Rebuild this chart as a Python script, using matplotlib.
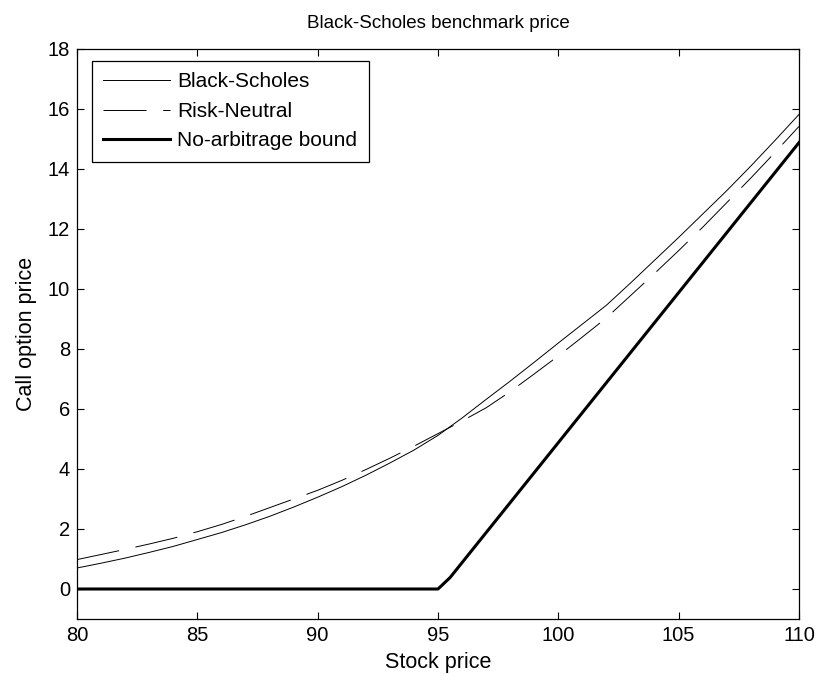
import matplotlib
matplotlib.use("Agg")
import matplotlib.pyplot as plt

plt.rcParams['font.family'] = ['Liberation Sans', 'DejaVu Sans']
plt.rcParams['lines.scale_dashes'] = False

stock = [80, 81, 82, 83, 84, 85, 86, 87, 88, 89, 90, 91, 92, 93, 94, 95,
         96, 97, 98, 99, 100, 101, 102, 103, 104, 105, 106, 107, 108, 109, 110]
black_scholes = [0.70, 0.86, 1.03, 1.22, 1.42, 1.65, 1.88, 2.14, 2.42, 2.73,
                 3.06, 3.41, 3.79, 4.20, 4.63, 5.12, 5.70, 6.32, 6.93, 7.56,
                 8.20, 8.83, 9.46, 10.20, 10.96, 11.72, 12.50, 13.28, 14.10,
                 14.95, 15.82]
risk_neutral = [0.98, 1.15, 1.32, 1.50, 1.69, 1.91, 2.15, 2.42, 2.71, 3.00,
                3.29, 3.62, 3.98, 4.36, 4.76, 5.18, 5.60, 6.04, 6.58, 7.17,
                7.77, 8.40, 9.04, 9.78, 10.52, 11.28, 12.06, 12.88, 13.70,
                14.55, 15.42]
bound_x = [80, 95, 95.5, 96, 110]
bound_y = [0, 0, 0.38, 0.88, 14.88]

xticks = [80, 85, 90, 95, 100, 105, 110]
yticks = [0, 2, 4, 6, 8, 10, 12, 14, 16, 18]

fig = plt.figure(figsize=(8.2, 6.74), dpi=100)
ax = fig.add_axes([77/820, 55/674, 722/820, 570/674])

ax.plot(stock, black_scholes, color='black', lw=0.7, label='Black-Scholes')
ax.plot(stock, risk_neutral, color='black', lw=0.7, dashes=(31, 12),
        label='Risk-Neutral')
ax.plot(bound_x, bound_y, color='black', lw=2.2, label='No-arbitrage bound',
        solid_joinstyle='round')

ax.set_xlim(80, 110)
ax.set_ylim(-1, 18)
ax.set_xticks(xticks)
ax.set_yticks(yticks)
ax.tick_params(direction='in', length=5, width=0.8, top=True, right=True,
               labelsize=14.5, pad=5, colors='black')
for s in ax.spines.values():
    s.set_linewidth(0.9)

ax.set_title('Black-Scholes benchmark price', fontsize=13.5, pad=15)
ax.set_xlabel('Stock price', fontsize=15.5, labelpad=5)
ax.set_ylabel('Call option price', fontsize=15.5, labelpad=8)

leg = ax.legend(loc='upper left', bbox_to_anchor=(15/722, 1 - 12/570),
                borderaxespad=0, fontsize=15, frameon=True, fancybox=False,
                edgecolor='black', framealpha=1,
                handlelength=3.2, handletextpad=0.35, labelspacing=0.5,
                borderpad=0.55)
leg.get_frame().set_linewidth(0.9)

fig.savefig('out.png', dpi=100)
